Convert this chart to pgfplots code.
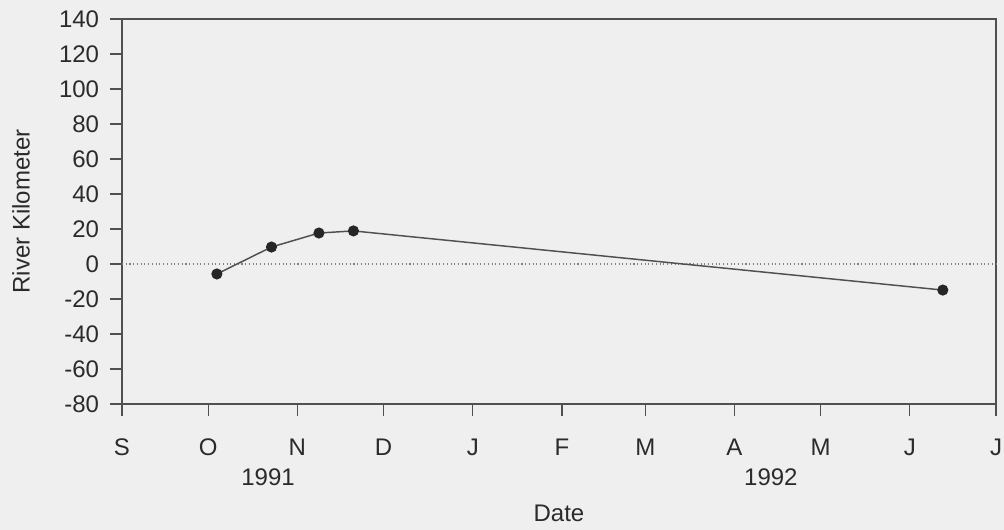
\documentclass[border=0pt]{standalone}
\usepackage{pgfplots}
\pgfplotsset{compat=1.18}
\usepackage{fontspec}
\setmainfont{Liberation Sans}
\definecolor{bgcol}{HTML}{EFEFEF}
\definecolor{inkcol}{HTML}{2B2B2B}
\definecolor{linecol}{HTML}{505050}
\newcommand{\chartfont}{\fontsize{18}{21}\selectfont}
\begin{document}
\chartfont
\begin{tikzpicture}
\fill[bgcol] (-91.5pt,-94.5pt) rectangle (661.5pt,303pt);
\begin{axis}[
    at={(0,0)}, anchor=south west,
    scale only axis,
    width=655.5pt, height=288.75pt,
    xmin=0, xmax=304,
    ymin=-80, ymax=140,
    xtick={0,30,61,91,122,153,182,213,243,274,304},
    xticklabels={S,O,N,D,J,F,M,A,M,J,J},
    ytick={-80,-60,...,140},
    tick align=outside,
    xtick pos=bottom, ytick pos=left,
    major tick length=9pt,
    axis line style={draw=linecol, line width=1pt},
    every tick/.style={draw=linecol, line width=1pt},
    /pgf/number format/assume math mode=true,
    ticklabel style={text=inkcol, font=\chartfont},
    xticklabel style={yshift=-11pt},
    yticklabel style={xshift=-2pt},
    xlabel={Date},
    ylabel={River Kilometer},
    label style={font=\chartfont, text=inkcol},
    xlabel style={at={(axis description cs:0.5,0)}, anchor=center, yshift=-81.75pt},
    ylabel style={at={(axis description cs:-0.1156,0.5)}, anchor=center},
    clip=false,
]
\addplot[gray, dotted, line width=0.8pt, forget plot] coordinates {(0,0) (304,0)};
\addplot[linecol, line width=1.1pt, mark=*, mark size=3.6pt,
         mark options={fill=black!85, draw=black!85}] coordinates {
    (33,-5.7)
    (52,9.7)
    (68.5,17.7)
    (80.5,18.9)
    (285.5,-14.9)
};
\node[text=inkcol, anchor=center, font=\chartfont] at ([yshift=-54.75pt]axis cs:50.8,-80) {1991};
\node[text=inkcol, anchor=center, font=\chartfont] at ([yshift=-54.75pt]axis cs:225.7,-80) {1992};
\end{axis}
\pgfresetboundingbox
\path[use as bounding box] (-91.5pt,-94.5pt) rectangle (661.5pt,303pt);
\end{tikzpicture}
\end{document}
